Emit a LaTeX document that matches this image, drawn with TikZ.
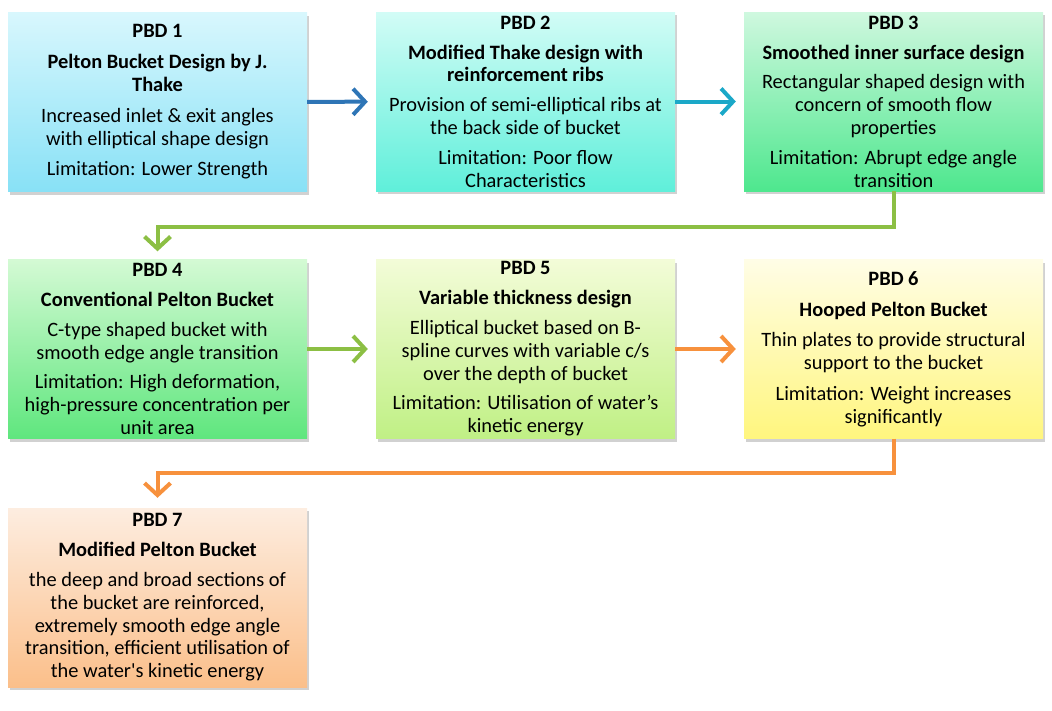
\documentclass[tikz,border=0pt]{standalone}
\usepackage{fontspec}
\setmainfont{Carlito}
\usetikzlibrary{arrows.meta,shadows}
\definecolor{c1t}{HTML}{D8F7FD}\definecolor{c1b}{HTML}{88E1F6}
\definecolor{c2t}{HTML}{D2FCF6}\definecolor{c2b}{HTML}{5FEFDA}
\definecolor{c3t}{HTML}{CFF8DF}\definecolor{c3b}{HTML}{4EE78E}
\definecolor{c4t}{HTML}{D4FAD4}\definecolor{c4b}{HTML}{5FE67E}
\definecolor{c5t}{HTML}{F3FCD8}\definecolor{c5b}{HTML}{C0F085}
\definecolor{c6t}{HTML}{FFFDE6}\definecolor{c6b}{HTML}{FFF67E}
\definecolor{c7t}{HTML}{FDEDE0}\definecolor{c7b}{HTML}{FBBF8A}
\definecolor{ablue}{HTML}{2E75B6}
\definecolor{acyan}{HTML}{1BA8C8}
\definecolor{agreen}{HTML}{8CBF44}
\definecolor{aorange}{HTML}{F7913D}
\begin{document}
\begin{tikzpicture}[x=1pt,y=-1pt,
  box/.style={rectangle, minimum width=299pt, minimum height=179pt, inner sep=0pt,
    align=center, font=\fontsize{20.4}{22.8}\selectfont,
    drop shadow={shadow xshift=1.5pt, shadow yshift=-3pt, opacity=0.3, fill=black!60}},
  conn/.style={line width=4pt, -{Straight Barb[length=12pt,width=26pt]}}]
\useasboundingbox (0,0) rectangle (1052,710);
\node[box, top color=c1t, bottom color=c1b] (b1) at (157.5,102)
  {\textbf{PBD 1}\\[8pt]\textbf{Pelton Bucket Design by J.}\\\textbf{Thake}\\[8pt]Increased inlet \& exit angles\\with elliptical shape design\\[8pt]Limitation: Lower Strength};
\node[box, top color=c2t, bottom color=c2b] (b2) at (525.5,101.5)
  {\textbf{PBD 2}\\[7pt]\textbf{Modified Thake design with}\\\textbf{reinforcement ribs}\\[7pt]Provision of semi-elliptical ribs at\\the back side of bucket\\[7pt]Limitation: Poor flow\\Characteristics};
\node[box, top color=c3t, bottom color=c3b] (b3) at (893.5,101.5)
  {\textbf{PBD 3}\\[7pt]\textbf{Smoothed inner surface design}\\[7pt]Rectangular shaped design with\\concern of smooth flow\\properties\\[7pt]Limitation: Abrupt edge angle\\transition};
\node[box, top color=c4t, bottom color=c4b] (b4) at (157.5,349)
  {\textbf{PBD 4}\\[7pt]\textbf{Conventional Pelton Bucket}\\[7pt]C-type shaped bucket with\\smooth edge angle transition\\[7pt]Limitation: High deformation,\\high-pressure concentration per\\unit area};
\node[box, top color=c5t, bottom color=c5b] (b5) at (525.5,349)
  {\textbf{PBD 5}\\[7pt]\textbf{Variable thickness design}\\[7pt]Elliptical bucket based on B-\\spline curves with variable c/s\\over the depth of bucket\\[7pt]Limitation: Utilisation of water’s\\kinetic energy};
\node[box, top color=c6t, bottom color=c6b] (b6) at (893.5,349)
  {\textbf{PBD 6}\\[8pt]\textbf{Hooped Pelton Bucket}\\[8pt]Thin plates to provide structural\\support to the bucket\\[8pt]Limitation: Weight increases\\significantly};
\node[box, top color=c7t, bottom color=c7b] (b7) at (157.5,597.5)
  {\textbf{PBD 7}\\[7pt]\textbf{Modified Pelton Bucket}\\[7pt]the deep and broad sections of\\the bucket are reinforced,\\extremely smooth edge angle\\transition, efficient utilisation of\\the water\textquotesingle s kinetic energy};
\coordinate (k1) at (893.5,227);
\coordinate (k2) at (893.5,473);
\draw[conn, ablue, shorten >=8pt] (b1) -- (b2);
\draw[conn, acyan, shorten >=8pt] (b2) -- (b3);
\draw[conn, agreen, shorten >=8pt] (b4) -- (b5);
\draw[conn, aorange, shorten >=8pt] (b5) -- (b6);
\draw[conn, agreen, shorten >=8pt] (b3.south) -- (k1) -| (b4.north);
\draw[conn, aorange, shorten >=10pt] (b6.south) -- (k2) -| (b7.north);
\end{tikzpicture}
\end{document}
